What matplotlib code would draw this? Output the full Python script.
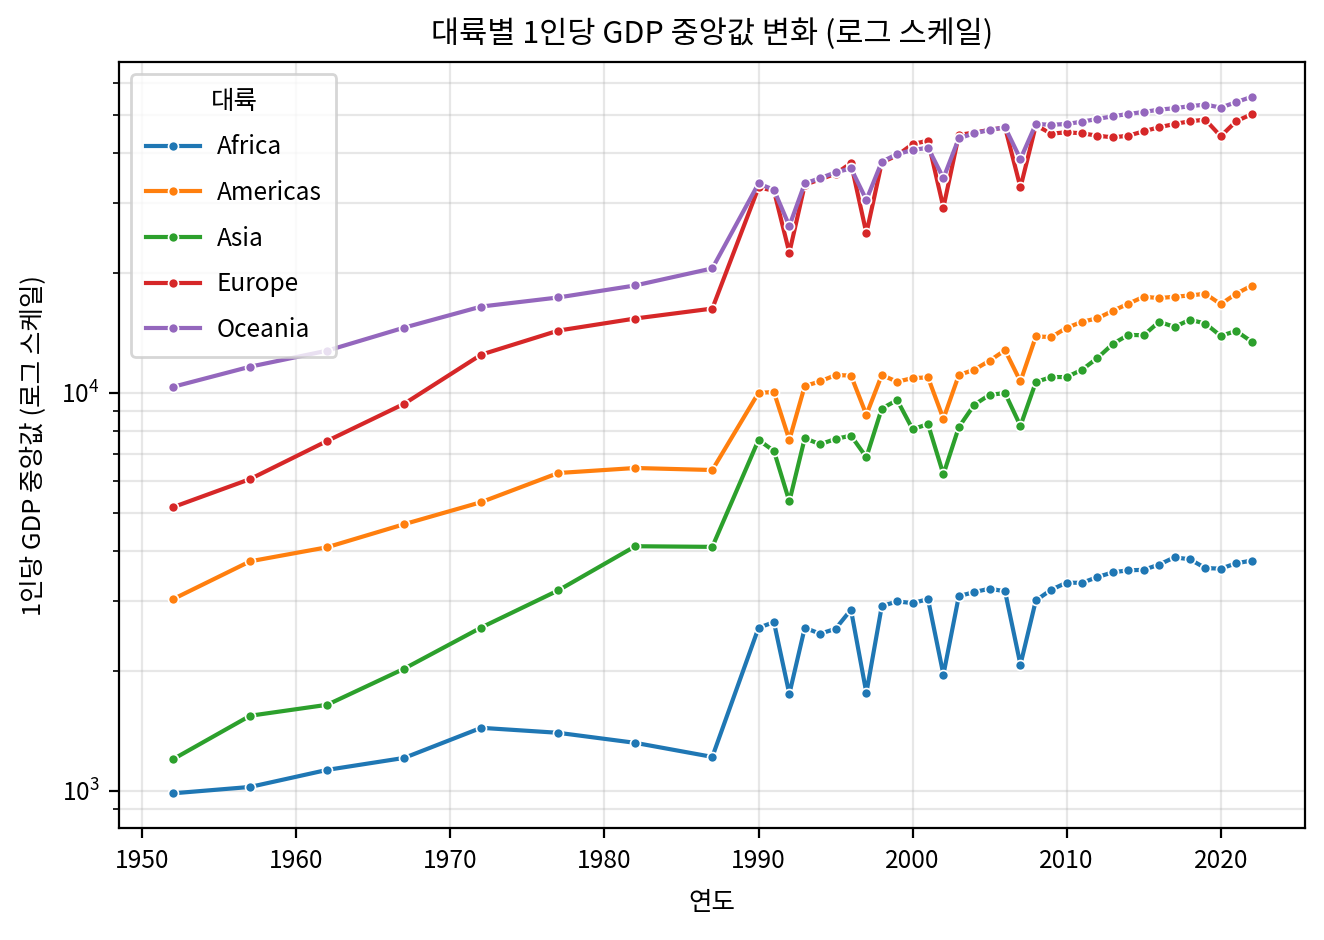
import matplotlib
matplotlib.use("Agg")
import matplotlib.pyplot as plt

plt.rcParams['font.family'] = ['Noto Sans CJK KR', 'DejaVu Sans']
plt.rcParams['axes.unicode_minus'] = False

# Years: every 5 years until 1987, then yearly
years = [1952, 1957, 1962, 1967, 1972, 1977, 1982, 1987] + list(range(1990, 2023))

africa = [985, 1022, 1128, 1209, 1439, 1398, 1319, 1216,
          2567, 2652, 1750, 2567, 2480, 2552, 2850, 1761, 2910, 2990, 2961, 3030,
          1957, 3083, 3156, 3219, 3170, 2074, 3007, 3200, 3333, 3330, 3443, 3539,
          3580, 3590, 3700, 3860, 3815, 3627, 3614, 3728, 3787]
americas = [3030, 3771, 4091, 4675, 5311, 6286, 6471, 6396,
            10000, 10040, 7612, 10400, 10680, 11080, 11050, 8803, 11080, 10660, 10890, 10930,
            8600, 11080, 11430, 12040, 12790, 10680, 13850, 13810, 14560, 15080, 15390, 16070,
            16740, 17430, 17300, 17430, 17560, 17740, 16700, 17740, 18580]
asia = [1200, 1543, 1644, 2026, 2571, 3187, 4115, 4100,
        7612, 7142, 5333, 7688, 7424, 7656, 7805, 6885, 9130, 9585, 8100, 8339,
        6237, 8196, 9328, 9885, 9982, 8256, 10640, 10955, 10950, 11430, 12230, 13270,
        13980, 13950, 15080, 14640, 15260, 14930, 13900, 14300, 13450]
europe = [5160, 6070, 7568, 9383, 12470, 14330, 15370, 16280,
          32810, 32200, 22500, 33300, 34400, 35500, 37780, 25170, 37900, 39500, 42180, 43000,
          29210, 44450, 45100, 45760, 46480, 32810, 47000, 44800, 45150, 44880, 44260, 43850,
          44260, 45410, 46480, 47370, 48120, 48570, 44120, 48120, 50120]
oceania = [10350, 11630, 12760, 14580, 16470, 17360, 18610, 20540,
           33570, 32360, 26260, 33570, 34630, 35800, 36640, 30530, 38070, 39810, 40740, 41290,
           34630, 43600, 44880, 45760, 46480, 38670, 47370, 47150, 47370, 48010, 48770, 49540,
           50200, 50780, 51470, 51900, 52510, 53000, 52080, 53740, 55420]

continents = ['Africa', 'Americas', 'Asia', 'Europe', 'Oceania']
series = [africa, americas, asia, europe, oceania]
colors = ['#1f77b4', '#ff7f0e', '#2ca02c', '#d62728', '#9467bd']

fig, ax = plt.subplots(figsize=(6.62, 4.7), dpi=200)
fig.subplots_adjust(left=0.09, right=0.986, top=0.934, bottom=0.119)

for name, vals, c in zip(continents, series, colors):
    ax.plot(years, vals, color=c, lw=1.5, marker='o', ms=3.6,
            mec='white', mew=0.6, label=name)

ax.set_yscale('log')
ax.grid(True, which='both', alpha=0.3)
ax.tick_params(labelsize=8.8)

ax.set_title('대륙별 1인당 GDP 중앙값 변화 (로그 스케일)', fontsize=11, pad=7)
ax.set_xlabel('연도', fontsize=9.2, labelpad=6)
ax.set_ylabel('1인당 GDP 중앙값 (로그 스케일)', fontsize=9.2, labelpad=5)
ax.legend(title='대륙', loc='upper left', fontsize=8.8, title_fontsize=9.2,
          labelspacing=0.8, borderpad=0.6, handlelength=2.2, handletextpad=0.7)

fig.savefig('out.png', dpi=200)
